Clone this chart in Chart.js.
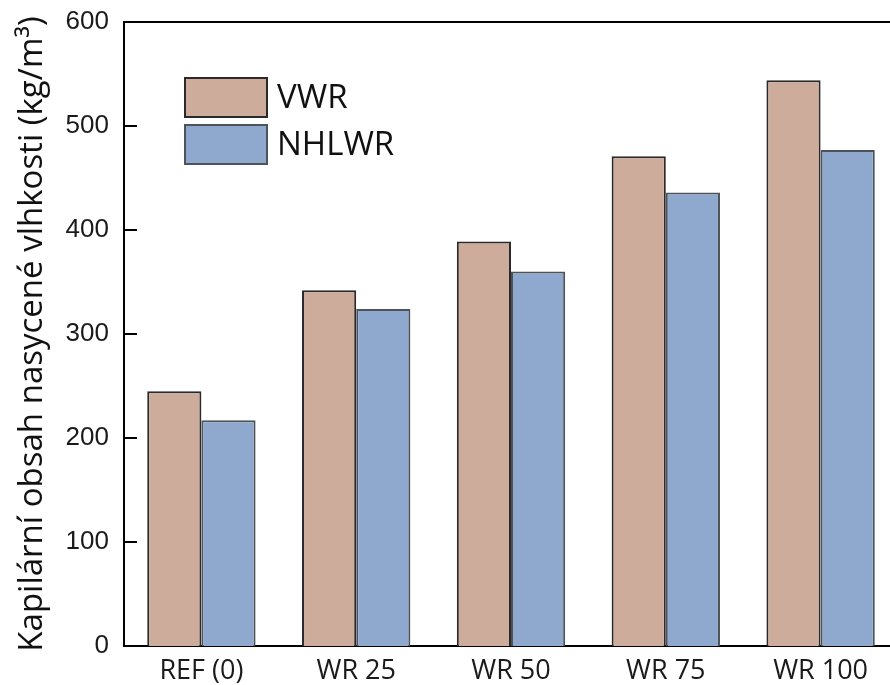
<!DOCTYPE html>
<html>
<head>
<meta charset="utf-8">
<script src="https://cdn.jsdelivr.net/npm/chart.js@4.4.1/dist/chart.umd.min.js"></script>
<style>
  html, body { margin: 0; padding: 0; background: #fff; overflow: hidden; width: 890px; height: 685px; }
  canvas { display: block; }
</style>
</head>
<body>
<canvas id="c" width="900" height="685"></canvas>
<script>
// Capillary saturated moisture content per mix
const categories = ['REF (0)', 'WR 25', 'WR 50', 'WR 75', 'WR 100'];
const vwr = [245, 342, 389, 471, 544];
const nhlwr = [217, 324, 360, 436, 477];
const seriesNames = ['VWR', 'NHLWR'];
const yTicks = [0, 100, 200, 300, 400, 500, 600];
const yTitle = 'Kapilární obsah nasycené vlhkosti (kg/m³)';

// Frame on top/right, inward y ticks and an in-plot legend
const framePlugin = {
  id: 'frameAndLegend',
  afterDraw(chart) {
    const { ctx, chartArea: a, scales: { y } } = chart;
    ctx.save();
    ctx.strokeStyle = '#000';
    ctx.lineWidth = 2;
    ctx.beginPath();
    ctx.moveTo(a.left, a.top);
    ctx.lineTo(a.right, a.top);
    ctx.lineTo(a.right, a.bottom);
    ctx.stroke();
    // inward tick marks
    ctx.beginPath();
    yTicks.forEach(v => {
      const py = Math.round(y.getPixelForValue(v));
      ctx.moveTo(a.left, py);
      ctx.lineTo(a.left + 13, py);
    });
    ctx.stroke();
    // legend
    const bx = a.left + 60, bw = 84, bh = 41;
    const rows = [a.top + 55, a.top + 102];
    chart.data.datasets.forEach((ds, i) => {
      const by = rows[i];
      ctx.fillStyle = ds.backgroundColor;
      ctx.fillRect(bx, by, bw, bh);
      ctx.lineWidth = 2;
      ctx.strokeStyle = ds.borderColor;
      ctx.strokeRect(bx + 1, by + 1, bw - 2, bh - 2);
      ctx.fillStyle = '#111';
      ctx.font = '33px "Open Sans"';
      ctx.textBaseline = 'middle';
      ctx.textAlign = 'left';
      ctx.fillText(ds.label, bx + 93, by + bh / 2 + 1);
    });
    ctx.restore();
  }
};

new Chart(document.getElementById('c'), {
  type: 'bar',
  data: {
    labels: categories,
    datasets: [
      { label: seriesNames[0], data: vwr, backgroundColor: '#CEAC9C', borderColor: '#2a2a2a', borderWidth: 2 },
      { label: seriesNames[1], data: nhlwr, backgroundColor: '#8FA9CE', borderColor: '#4d5358', borderWidth: 2 }
    ]
  },
  options: {
    responsive: false,
    devicePixelRatio: 1,
    animation: false,
    layout: { padding: { top: 22, right: 2, bottom: 0, left: 0 } },
    datasets: { bar: { categoryPercentage: 0.7, barPercentage: 1.0 } },
    plugins: { legend: { display: false }, tooltip: { enabled: false } },
    scales: {
      x: {
        grid: { display: false, drawTicks: false },
        border: { display: true, color: '#000', width: 2 },
        ticks: { color: '#1a1a1a', font: { family: 'Open Sans', size: 27 }, padding: 9, maxRotation: 0 },
        afterFit(s) { s.height = 39; s.paddingLeft = 0; s.paddingRight = 0; }
      },
      y: {
        min: 0, max: 600,
        afterBuildTicks(s) { s.ticks = yTicks.map(v => ({ value: v })); },
        grid: { display: false, drawTicks: false },
        border: { display: true, color: '#000', width: 2 },
        ticks: { color: '#1a1a1a', font: { family: 'Liberation Sans', size: 26 }, padding: 15 },
        title: { display: true, text: yTitle, color: '#111', font: { family: 'Open Sans', size: 33 }, padding: { top: 13, bottom: 0 } },
        afterFit(s) { s.width = 124; s.paddingTop = 0; s.paddingBottom = 0; }
      }
    }
  },
  plugins: [framePlugin]
});
</script>
</body>
</html>
